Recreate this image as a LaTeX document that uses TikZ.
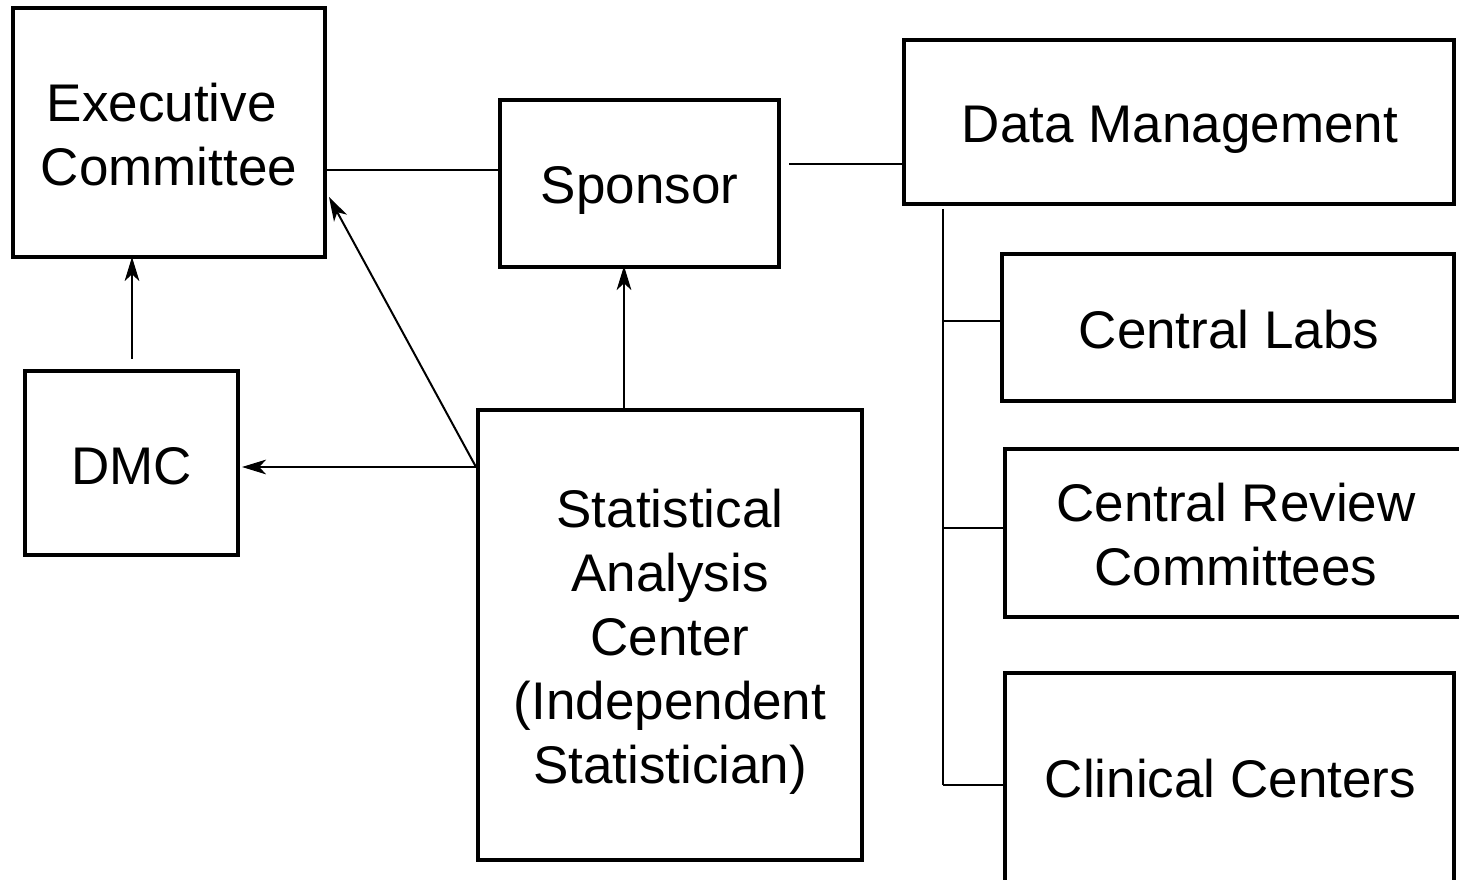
\documentclass[tikz,border=0pt]{standalone}
\usepackage{fontspec}
\setmainfont{Liberation Sans}
\usetikzlibrary{arrows.meta,calc}
\begin{document}
\begin{tikzpicture}[x=0.75pt,y=-0.75pt,
  box/.style={draw, line width=3pt, inner sep=0pt},
  txt/.style={inner sep=0pt, align=center, font=\fontsize{39.75}{48}\selectfont},
  conn/.style={line width=1.5pt},
  arr/.style={line width=1.5pt, -{Stealth[length=18pt,width=11pt,inset=5pt]}}]
\useasboundingbox (0,0) rectangle (1459,880);
\clip (0,0) rectangle (1459,880);
\node[box, minimum width=312*0.75pt, minimum height=249*0.75pt] (exec) at (169,132.5) {};
\node[box, minimum width=279*0.75pt, minimum height=167*0.75pt] (sponsor) at (639.5,183.5) {};
\node[box, minimum width=550*0.75pt, minimum height=164*0.75pt] (dm) at (1179,122) {};
\node[box, minimum width=213*0.75pt, minimum height=184*0.75pt] (dmc) at (131.5,463) {};
\node[box, minimum width=384*0.75pt, minimum height=450*0.75pt] (sac) at (670,635) {};
\node[box, minimum width=452*0.75pt, minimum height=147*0.75pt] (labs) at (1228,327.5) {};
\node[box, minimum width=462*0.75pt, minimum height=168*0.75pt] (review) at (1236,533) {};
\node[box, minimum width=449*0.75pt, minimum height=212*0.75pt] (clin) at (1229.5,779) {};
% texts
\node[txt] (execT) at ($(exec.center)+(0,2)$) {Executive\hspace*{0.278em}\\Committee};
\node[txt] (sponsorT) at ($(sponsor.center)+(0,7)$) {Sponsor};
\node[txt] (dmT) at ($(dm.center)+(1,8)$) {Data Management};
\node[txt] (dmcT) at ($(dmc.center)+(0,3)$) {DMC};
\node[txt] (sacT) at ($(sac.center)+(0,7)$) {Statistical\\Analysis\hspace*{0.278em}\\Center\\(Independent\\Statistician)};
\node[txt] (labsT) at ($(labs.center)+(1,2)$) {Central Labs};
\node[txt] (reviewT) at ($(review.center)+(0,2)$) {Central Review\\Committees};
\node[txt] (clinT) at ($(clin.center)+(1,0)$) {Clinical Centers};
% coordinates for connector levels
\coordinate (yEx) at (0,170);
\coordinate (yDm) at (789,164);
\coordinate (trunkTop) at (943,209);
\coordinate (trunkBot) at (943,785);
\coordinate (ySac) at (0,467);
\coordinate (yExArr) at (0,197);
\coordinate (xSp) at (624,0);
% connectors
\draw[conn] (exec.east |- yEx) -- (sponsor.west |- yEx);
\draw[conn] (yDm) -- (dm.west |- yDm);
\draw[conn] (trunkTop) -- (trunkBot);
\draw[conn] ($(trunkTop |- labs.west)+(0,-6)$) -- ($(labs.west)+(0,-6)$);
\draw[conn] ($(trunkTop |- review.west)+(0,-5)$) -- ($(review.west)+(0,-5)$);
\draw[conn] ($(trunkTop |- clin.west)+(0,6)$) -- ($(clin.west)+(0,6)$);
% arrows
\draw[arr] ($(dmc.north)+(0.5,-10)$) -- ($(exec.south -| dmc.north)+(0.5,-2)$);
\draw[arr] (sac.north -| xSp) -- ($(sponsor.south -| xSp)+(0,-3)$);
\draw[arr] (sac.west |- ySac) -- ($(dmc.east |- ySac)+(2,0)$);
\draw[arr] (sac.west |- ySac) -- ($(exec.east |- yExArr)+(2,0)$);
\end{tikzpicture}
\end{document}
